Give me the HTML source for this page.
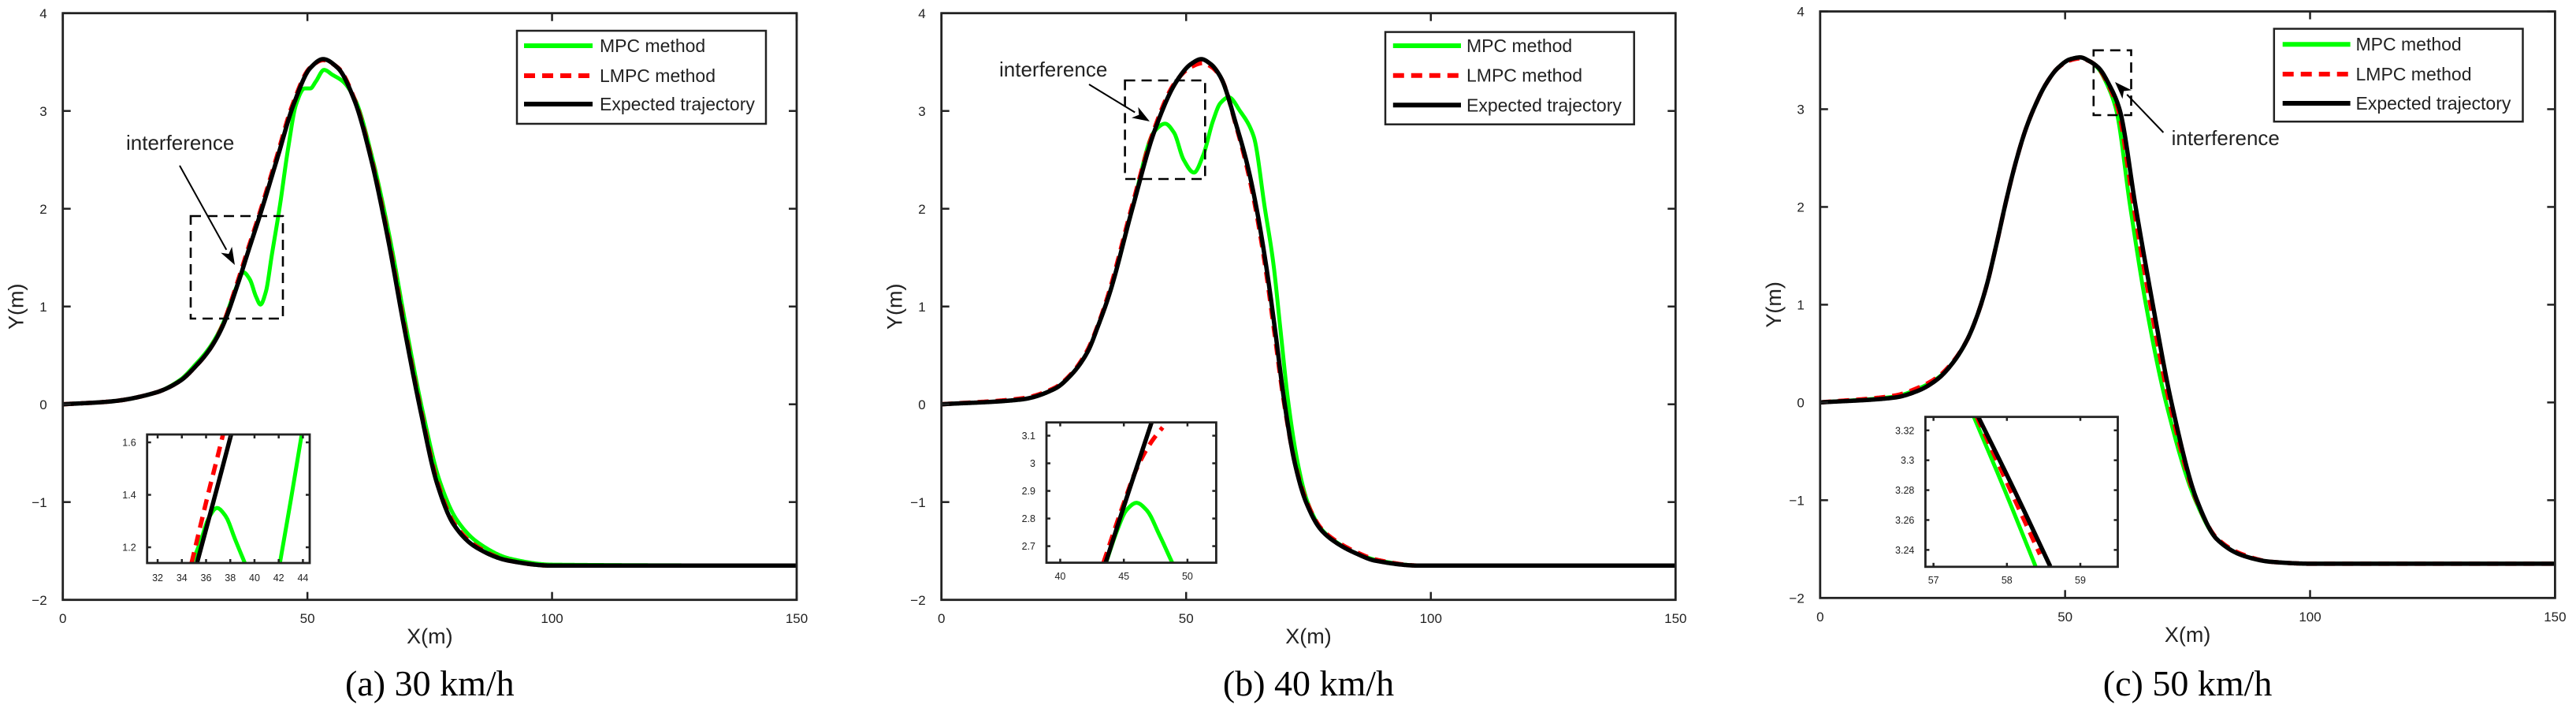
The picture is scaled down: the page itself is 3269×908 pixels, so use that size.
<!DOCTYPE html>
<html><head><meta charset="utf-8">
<style>
html,body{margin:0;padding:0;background:#fff;}
svg{display:block;}
text{font-family:"Liberation Sans",sans-serif;fill:#222;}
.cap{font-family:"Liberation Serif",serif;fill:#000;}
</style></head>
<body>
<svg id="fig" width="3269" height="908" viewBox="0 0 3269 908" xmlns="http://www.w3.org/2000/svg"></svg>
<script>
// ---------- Data ----------
const xTicks = [0, 50, 100, 150];
const yTicks = [-2, -1, 0, 1, 2, 3, 4];
const legendLabels = ["MPC method", "LMPC method", "Expected trajectory"];
const captions = ["(a) 30 km/h", "(b) 40 km/h", "(c) 50 km/h"];

// Panel a (30 km/h)
const aBlackX = [0,10,19,24,27,30,32.5,35.9,38,40.4,43.8,47.2,50.6,53.2,56.2,59.6,63,66.4,69.8,73.1,76.5,79.9,84.4,91.2,100,150];
const aBlackY = [0,0.03,0.12,0.24,0.38,0.56,0.78,1.25,1.58,1.95,2.51,3.07,3.44,3.53,3.44,3.11,2.51,1.71,0.78,-0.06,-0.81,-1.23,-1.46,-1.6,-1.65,-1.65];
const aRedX = [0,10,19,24,27,30,32.4,35.7,37.8,40.2,43.6,47.0,50.5,53.2,56.3,59.7,63.1,66.5,69.9,73.2,76.6,80,84.5,91.3,100,150];
const aRedY = [0,0.03,0.12,0.24,0.38,0.56,0.78,1.25,1.58,1.95,2.51,3.07,3.44,3.52,3.44,3.11,2.51,1.71,0.78,-0.06,-0.8,-1.22,-1.45,-1.6,-1.65,-1.65];
const aGreenX = [0,10,19,24,27,30,32.5,35.5,36.9,38.2,39.5,40.4,41.5,42.7,44.4,46,47.7,49.4,50.6,51.7,53.4,55.1,57.3,59.8,63.3,66.8,70.2,73.5,77,80.5,85,91.5,100,150];
const aGreenY = [0,0.03,0.12,0.25,0.4,0.58,0.8,1.2,1.35,1.28,1.1,1.02,1.15,1.52,2.04,2.6,3.07,3.23,3.23,3.3,3.42,3.37,3.3,3.11,2.51,1.71,0.78,-0.06,-0.78,-1.18,-1.42,-1.58,-1.64,-1.65];
const aInXTicks = [32,34,36,38,40,42,44];
const aInYTicks = [1.2,1.4,1.6];
const aInBlackX = [35.25,36.7,38.07];
const aInBlackY = [1.14,1.39,1.63];
const aInRedX = [34.8,36.1,37.4,37.6];
const aInRedY = [1.14,1.39,1.63,1.67];
const aInGreen1X = [34.85,35.6,36.2,36.9,37.6,38.4,39.2];
const aInGreen1Y = [1.14,1.23,1.31,1.35,1.32,1.23,1.14];
const aInGreen2X = [42.1,43.0,43.9];
const aInGreen2Y = [1.14,1.38,1.63];

// Panel b (40 km/h)
const bBlackX = [0,16.4,23.2,26.5,29.9,32,34.4,39,43.5,48,51,53.1,55,57,60.4,62.5,64.4,66.4,68.2,70,72.2,74.5,77.5,80.8,84.5,88.7,97.7,150];
const bBlackY = [0,0.05,0.16,0.3,0.54,0.8,1.14,2,2.79,3.3,3.48,3.53,3.48,3.35,2.83,2.45,2.0,1.4,0.75,0.05,-0.6,-1,-1.28,-1.42,-1.52,-1.6,-1.65,-1.65];
const bRedX = [0,16.4,23.2,26.5,29.8,31.9,34.2,38.8,43.3,47.6,51,53.4,55.2,57.2,60.3,62.3,64.2,66.2,68.0,69.9,72.2,74.6,77.6,81,84.7,88.9,97.9,150];
const bRedY = [0,0.06,0.17,0.31,0.55,0.8,1.14,2,2.79,3.28,3.45,3.49,3.45,3.33,2.83,2.45,2.0,1.4,0.75,0.05,-0.59,-0.99,-1.27,-1.41,-1.51,-1.59,-1.65,-1.65];
const bGreenX = [0,16.4,23.2,26.5,29.9,32,34.4,39,43.5,45.7,47.5,49.5,51.6,53.5,55.5,57,58.7,61,63.8,66.1,67.8,69.3,70.8,72.8,74.8,77.7,81,85,89.5,98,150];
const bGreenY = [0,0.05,0.16,0.3,0.54,0.8,1.14,2,2.79,2.87,2.78,2.5,2.37,2.55,2.9,3.08,3.14,3.0,2.74,2.0,1.45,0.75,0.05,-0.6,-1,-1.28,-1.42,-1.53,-1.6,-1.65,-1.65];
const bInXTicks = [40,45,50];
const bInYTicks = [2.7,2.8,2.9,3,3.1];
const bInBlackX = [43.57,45.4,47.18];
const bInBlackY = [2.64,2.9,3.148];
const bInRedX = [43.4,44.8,46.1,47.2,48.05];
const bInRedY = [2.64,2.83,2.99,3.08,3.13];
const bInGreenX = [43.6,44.5,45.2,46,46.8,47.8,48.8];
const bInGreenY = [2.64,2.76,2.83,2.857,2.83,2.74,2.64];

// Panel c (50 km/h)
const cBlackX = [0,15.2,20,24,27,30,32,34,36,38,40,42,44,46,48.5,51,53.1,55,56.9,59,61.1,64.4,67.9,71.7,76.9,81,86.5,92,100.8,150];
const cBlackY = [0,0.05,0.12,0.24,0.4,0.64,0.88,1.2,1.62,2.07,2.47,2.8,3.05,3.25,3.42,3.51,3.53,3.49,3.42,3.25,3,2,1,0,-1,-1.4,-1.57,-1.63,-1.65,-1.65];
const cRedX = [0,15.2,20,24,27,30,32,34,36,38,40,42,44,46,48.5,51,53.1,55,56.8,58.8,60.8,64,67.4,71.3,76.8,81,86.5,92,100.8,150];
const cRedY = [0,0.07,0.15,0.26,0.41,0.64,0.88,1.2,1.62,2.07,2.47,2.8,3.05,3.25,3.42,3.5,3.52,3.49,3.42,3.25,3,2,1,0,-1,-1.39,-1.56,-1.63,-1.65,-1.65];
const cGreenX = [0,15.2,20,24,27,30,32,34,36,38,40,42,44,46,48.5,51,53.1,55,56.7,58.6,60.4,63.3,66.5,70.6,76.6,81,86.5,92,100.8,150];
const cGreenY = [0,0.06,0.14,0.25,0.4,0.64,0.88,1.2,1.62,2.07,2.47,2.8,3.05,3.25,3.42,3.51,3.53,3.49,3.42,3.25,3,2,1,0,-1,-1.4,-1.57,-1.63,-1.65,-1.65];
const cInXTicks = [57,58,59];
const cInYTicks = [3.24,3.26,3.28,3.3,3.32];
const cInBlackX = [57.61,58.1,58.59];
const cInBlackY = [3.329,3.28,3.229];
const cInRedX = [57.59,58.0,58.45];
const cInRedY = [3.329,3.285,3.237];
const cInGreenX = [57.55,57.97,58.39];
const cInGreenY = [3.329,3.28,3.229];

// ---------- Layout ----------
const NS = "http://www.w3.org/2000/svg";
const svg = document.getElementById("fig");
function mk(tag, attrs, parent){
  const e = document.createElementNS(NS, tag);
  for (const k in attrs) e.setAttribute(k, attrs[k]);
  (parent||svg).appendChild(e);
  return e;
}
// monotone cubic (Fritsch-Carlson) interpolation in x, sampled densely
function monoPath(xs, ys, sx, sy){
  const n = xs.length;
  if (n < 2) return "";
  const d = [], m = new Array(n);
  for (let i = 0; i < n-1; i++) d.push((ys[i+1]-ys[i])/(xs[i+1]-xs[i]));
  m[0] = d[0]; m[n-1] = d[n-2];
  for (let i = 1; i < n-1; i++){
    if (d[i-1]*d[i] <= 0) m[i] = 0;
    else { const w1 = 2*(xs[i+1]-xs[i]) + (xs[i]-xs[i-1]), w2 = (xs[i+1]-xs[i]) + 2*(xs[i]-xs[i-1]);
      m[i] = (w1+w2)/(w1/d[i-1] + w2/d[i]); }
  }
  let path = "M" + sx(xs[0]).toFixed(2) + "," + sy(ys[0]).toFixed(2);
  for (let i = 0; i < n-1; i++){
    const h = xs[i+1]-xs[i];
    const steps = Math.max(4, Math.ceil(h*6));
    for (let s = 1; s <= steps; s++){
      const t = s/steps, t2=t*t, t3=t2*t;
      const y = (2*t3-3*t2+1)*ys[i] + (t3-2*t2+t)*h*m[i] + (-2*t3+3*t2)*ys[i+1] + (t3-t2)*h*m[i+1];
      const x = xs[i] + t*h;
      path += " L" + sx(x).toFixed(2) + "," + sy(y).toFixed(2);
    }
  }
  return path;
}
const styles = {
  green: {stroke:"#00ff00", w:5, dash:null},
  red: {stroke:"#ff0000", w:5.5, dash:"14 9"},
  black: {stroke:"#000", w:5.5, dash:null}
};
let clipId = 0;
function drawSeries(g, xs, ys, sx, sy, st, name, clip){
  const p = mk("path", {d:monoPath(xs, ys, sx, sy), fill:"none", stroke:styles[st].stroke, "stroke-width":styles[st].w, "stroke-linejoin":"round", "clip-path":"url(#"+clip+")"}, g);
  if (styles[st].dash) p.setAttribute("stroke-dasharray", styles[st].dash);
  
  
}
function makeClip(x,y,w,h){
  const id = "clip" + (clipId++);
  const cp = mk("clipPath", {id:id});
  mk("rect", {x:x, y:y, width:w, height:h}, cp);
  return id;
}

function drawAxes(g, L, R, T, B, xt, yt, sx, sy, tl, fs, xlabY, ylabX, fmt, prefix){
  xt.forEach(v=>{
    const x = sx(v);
    mk("line",{x1:x,y1:B,x2:x,y2:B-tl,stroke:"#222","stroke-width":2.5},g);
    mk("line",{x1:x,y1:T,x2:x,y2:T+tl,stroke:"#222","stroke-width":2.5},g);
    const t = mk("text",{x:x,y:xlabY,"font-size":fs,"text-anchor":"middle"},g);
    t.textContent = fmt(v);
    
    
  });
  yt.forEach(v=>{
    const y = sy(v);
    mk("line",{x1:L,y1:y,x2:L+tl,y2:y,stroke:"#222","stroke-width":2.5},g);
    mk("line",{x1:R,y1:y,x2:R-tl,y2:y,stroke:"#222","stroke-width":2.5},g);
    const t = mk("text",{x:ylabX,y:y+fs*0.36,"font-size":fs,"text-anchor":"end"},g);
    t.textContent = fmt(v);
    
    
  });
  const r = mk("rect",{x:L,y:T,width:R-L,height:B-T,fill:"none",stroke:"#222","stroke-width":2.8},g);
  
  
}
const fmtMain = v => (v<0 ? "\u2212"+Math.abs(v) : String(v));
const fmtIn = v => String(+v.toFixed(2));

function drawPanel(cfg){
  const g = mk("g",{});
  
  
  const {L,R,T,B} = cfg;
  const sx = x => L + (x-0)/150*(R-L);
  const sy = y => T + (4-y)/6*(B-T);
  const clip = makeClip(L,T,R-L,B-T);
  drawSeries(g, cfg.green[0], cfg.green[1], sx, sy, "green", "mpc-line", clip);
  drawSeries(g, cfg.red[0], cfg.red[1], sx, sy, "red", "lmpc-line", clip);
  drawSeries(g, cfg.black[0], cfg.black[1], sx, sy, "black", "expected-trajectory-line", clip);
  drawAxes(g, L, R, T, B, xTicks, yTicks, sx, sy, 10, 17, cfg.xlabY, L-20, fmtMain, cfg.id);
  const xt = mk("text",{x:(L+R)/2,y:cfg.xlabY+26,"font-size":27,"text-anchor":"middle"},g);
  xt.textContent = "X(m)";
  
  
  const yx = L-50, yy = (T+B)/2;
  const yt = mk("text",{x:yx,y:yy,"font-size":27,"text-anchor":"middle",transform:"rotate(-90 "+yx+" "+yy+")"},g);
  yt.textContent = "Y(m)";
  
  
  const cap = mk("text",{x:(L+R)/2,y:882,"font-size":46,"text-anchor":"middle","class":"cap"},g);
  cap.textContent = cfg.caption;
  
  
  const db = cfg.box;
  const br = mk("rect",{x:db[0],y:db[1],width:db[2]-db[0],height:db[3]-db[1],fill:"none",stroke:"#000","stroke-width":2.6,"stroke-dasharray":"13 8"},g);
  
  
  const it = mk("text",{x:cfg.itext[0],y:cfg.itext[1],"font-size":26,fill:"#000"},g);
  it.textContent = "interference";
  
  
  const [x1,y1,x2,y2] = cfg.arrow;
  const ang = Math.atan2(y2-y1,x2-x1), hl=22, hw=8;
  const bx = x2-hl*Math.cos(ang), by = y2-hl*Math.sin(ang);
  const al = mk("line",{x1:x1,y1:y1,x2:bx,y2:by,stroke:"#000","stroke-width":2},g);
  
  
  const ah = mk("polygon",{points:[x2,y2,bx+hw*Math.sin(ang),by-hw*Math.cos(ang),bx+6*Math.cos(ang),by+6*Math.sin(ang),bx-hw*Math.sin(ang),by+hw*Math.cos(ang)].join(" "),fill:"#000"},g);
  
  
  const lg = cfg.legend;
  const lgg = mk("g",{},g);
  
  
  mk("rect",{x:lg[0],y:lg[1],width:lg[2]-lg[0],height:lg[3]-lg[1],fill:"#fff",stroke:"#222","stroke-width":2.5},lgg);
  const keys = ["green","red","black"];
  keys.forEach((k,i)=>{
    const y = lg[7][i];
    const ln = mk("line",{x1:lg[4],y1:y,x2:lg[5],y2:y,stroke:styles[k].stroke,"stroke-width":6},lgg);
    if (styles[k].dash) ln.setAttribute("stroke-dasharray","14 9");
    
    
    const t = mk("text",{x:lg[6],y:y+8,"font-size":23},lgg);
    t.textContent = legendLabels[i];
    
    
  });
  const ins = cfg.inset;
  const ig = mk("g",{},g);
  
  
  mk("rect",{x:ins.L,y:ins.T,width:ins.R-ins.L,height:ins.B-ins.T,fill:"#fff"},ig);
  const isx = x => ins.L + (x-ins.xmin)/(ins.xmax-ins.xmin)*(ins.R-ins.L);
  const isy = y => ins.T + (ins.ymax-y)/(ins.ymax-ins.ymin)*(ins.B-ins.T);
  const ic = makeClip(ins.L,ins.T,ins.R-ins.L,ins.B-ins.T);
  ins.series.forEach(s=>drawSeries(ig, s[0], s[1], isx, isy, s[2], "inset-"+s[3], ic));
  drawAxes(ig, ins.L, ins.R, ins.T, ins.B, ins.xt, ins.yt, isx, isy, 5, 12.5, ins.labY, ins.L-14, fmtIn, cfg.id+'-inset');
}

drawPanel({
  id:"panel-a", L:79.7, R:1011, T:16.7, B:760.7, xlabY:790, caption:captions[0],
  green:[aGreenX,aGreenY], red:[aRedX,aRedY], black:[aBlackX,aBlackY],
  box:[242,274,359,404], itext:[160,190], arrow:[228,210,298,336],
  legend:[656,39,972,157,665,752,761,[58,96,132]],
  inset:{L:186.7,R:393,T:551,B:714,xmin:31.13,xmax:44.56,ymin:1.14,ymax:1.63,
    xt:aInXTicks, yt:aInYTicks, labY:737,
    series:[[aInGreen1X,aInGreen1Y,"green","mpc-line"],[aInGreen2X,aInGreen2Y,"green","mpc-line-2"],[aInRedX,aInRedY,"red","lmpc-line"],[aInBlackX,aInBlackY,"black","expected-line"]]}
});
drawPanel({
  id:"panel-b", L:1194.7, R:2126.3, T:16.7, B:760.7, xlabY:790, caption:captions[1],
  green:[bGreenX,bGreenY], red:[bRedX,bRedY], black:[bBlackX,bBlackY],
  box:[1427.6,102,1529.3,227], itext:[1268,97], arrow:[1382,107,1459,154],
  legend:[1758,40.6,2073.7,157.7,1767.8,1854,1861,[58,95.7,133.3]],
  inset:{L:1328,R:1543.4,T:535.7,B:713.6,xmin:38.92,xmax:52.26,ymin:2.64,ymax:3.148,
    xt:bInXTicks, yt:bInYTicks, labY:735,
    series:[[bInGreenX,bInGreenY,"green","mpc-line"],[bInRedX,bInRedY,"red","lmpc-line"],[bInBlackX,bInBlackY,"black","expected-line"]]}
});
drawPanel({
  id:"panel-c", L:2309.8, R:3242.4, T:14.5, B:758.3, xlabY:788, caption:captions[2],
  green:[cGreenX,cGreenY], red:[cRedX,cRedY], black:[cBlackX,cBlackY],
  box:[2656.8,63.8,2704.5,146], itext:[2755.6,184], arrow:[2745.4,168,2684,104],
  legend:[2885.8,36.5,3201.5,154.2,2896.7,2982.6,2989.5,[56.2,94,131]],
  inset:{L:2443.4,R:2687.5,T:528.7,B:718.8,xmin:56.89,xmax:59.51,ymin:3.2287,ymax:3.329,
    xt:cInXTicks, yt:cInYTicks, labY:740,
    series:[[cInGreenX,cInGreenY,"green","mpc-line"],[cInRedX,cInRedY,"red","lmpc-line"],[cInBlackX,cInBlackY,"black","expected-line"]]}
});
</script>
</body></html>
